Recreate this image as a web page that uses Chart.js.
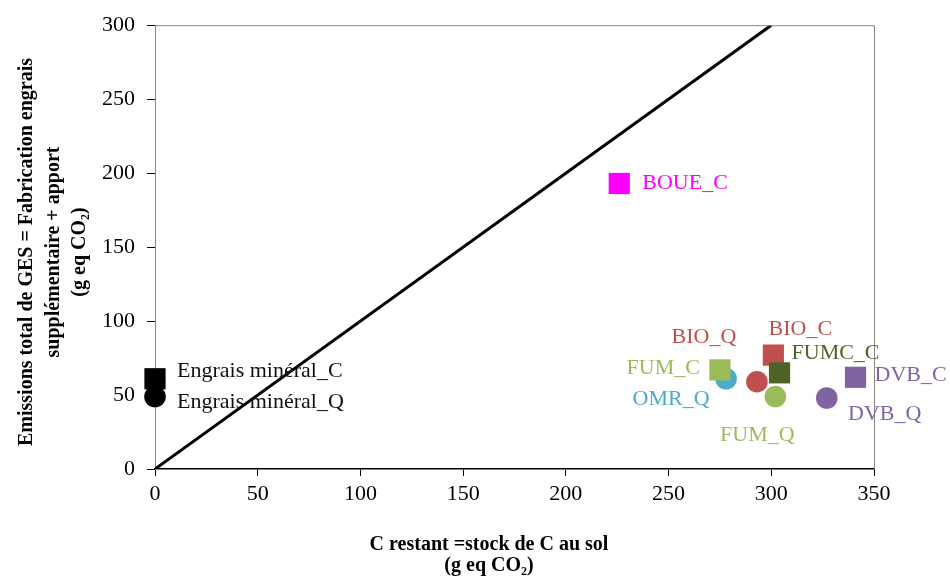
<!DOCTYPE html>
<html>
<head>
<meta charset="utf-8">
<script src="https://cdn.jsdelivr.net/npm/chart.js@4.4.1/dist/chart.umd.min.js"></script>
<style>
  html, body { margin: 0; padding: 0; background: #fff; }
  #wrap { width: 950px; height: 579px; position: relative; }
</style>
</head>
<body>
<div id="wrap"><canvas id="c" width="950" height="579"></canvas></div>
<script>
// ---- data ----
const names   = ['Engrais minéral_C', 'Engrais minéral_Q', 'BOUE_C', 'OMR_Q', 'FUM_C', 'BIO_Q', 'BIO_C', 'FUMC_C', 'FUM_Q', 'DVB_Q', 'DVB_C'];
const xValues = [0, 0, 226, 278, 275, 293, 301, 304, 302, 327, 341];
const yValues = [61, 49, 193, 61, 67, 59, 77, 65, 49, 48, 62];
const shapes  = ['rect', 'circle', 'rect', 'circle', 'rect', 'circle', 'rect', 'rect', 'circle', 'circle', 'rect'];
const colors  = ['#000000', '#000000', '#FF00FF', '#4BACC6', '#9BBB59', '#C0504D', '#C0504D', '#4F6228', '#9BBB59', '#8064A2', '#8064A2'];
const refLineX = [0, 300];
const refLineY = [0, 300];
const xTicks = [0, 50, 100, 150, 200, 250, 300, 350];
const yTicks = [0, 50, 100, 150, 200, 250, 300];

// label placement (pixel offsets from the marker)
const labelPlacement = {
  'Engrais minéral_C': { dx: 22, dy: -8, align: 'left' },
  'Engrais minéral_Q': { dx: 22, dy: 6, align: 'left' },
  'BOUE_C': { dx: 23, dy: 0, align: 'left' },
  'OMR_Q': { dx: -55, dy: 20, align: 'center' },
  'FUM_C': { dx: -20, dy: -2, align: 'right' },
  'BIO_Q': { dx: -53, dy: -45, align: 'center' },
  'BIO_C': { dx: 27, dy: -26, align: 'center' },
  'FUMC_C': { dx: 12, dy: -20, align: 'left' },
  'FUM_Q': { dx: -18, dy: 39, align: 'center' },
  'DVB_Q': { dx: 58, dy: 16, align: 'center' },
  'DVB_C': { dx: 19, dy: -2, align: 'left' }
};

const FONT = '"Liberation Serif", "Times New Roman", serif';
const n = names.length;

const datasets = names.map((nm, i) => ({
  label: nm,
  data: [{ x: xValues[i], y: yValues[i] }],
  pointStyle: shapes[i],
  pointRadius: shapes[i] === 'rect' ? 15 : 10.8,
  pointHoverRadius: shapes[i] === 'rect' ? 15 : 10.8,
  backgroundColor: colors[i],
  borderColor: colors[i],
  borderWidth: 0,
  clip: false,
  order: n - i + 1
}));
datasets.unshift({
  label: 'ref',
  type: 'scatter',
  data: refLineX.map((x, i) => ({ x: x, y: refLineY[i] })),
  showLine: true,
  borderColor: '#000',
  borderWidth: 3,
  pointRadius: 0,
  order: n + 5
});

const overlay = {
  id: 'overlay',
  afterDraw(chart) {
    const ctx = chart.ctx;
    const a = chart.chartArea;
    // frame top & right
    ctx.save();
    ctx.strokeStyle = '#868686';
    ctx.lineWidth = 1;
    ctx.beginPath();
    ctx.moveTo(a.left, a.top + 0.5);
    ctx.lineTo(a.right + 0.5, a.top + 0.5);
    ctx.lineTo(a.right + 0.5, a.bottom);
    ctx.stroke();
    ctx.restore();

    // point labels
    ctx.save();
    ctx.font = '22px ' + FONT;
    ctx.textBaseline = 'middle';
    chart.data.datasets.forEach((ds, di) => {
      const p = labelPlacement[ds.label];
      if (!p) return;
      const el = chart.getDatasetMeta(di).data[0];
      ctx.fillStyle = ds.label.startsWith('Engrais') ? '#111' : ds.backgroundColor;
      ctx.textAlign = p.align;
      ctx.fillText(ds.label, el.x + p.dx, el.y + p.dy);
    });
    ctx.restore();

    // axis titles
    ctx.save();
    ctx.fillStyle = '#000';
    ctx.font = 'bold 20px ' + FONT;
    ctx.textAlign = 'center';
    ctx.textBaseline = 'middle';
    ctx.fillText('C restant =stock de C au sol', 489, 545);
    ctx.fillText('(g eq CO\u2082)', 489, 566);
    const ylines = ['Emissions total de GES = Fabrication engrais', 'supplémentaire + apport', '(g eq CO\u2082)'];
    const xs = [27, 54, 80];
    ylines.forEach((t, i) => {
      ctx.save();
      ctx.translate(xs[i], 252);
      ctx.rotate(-Math.PI / 2);
      ctx.fillText(t, 0, 0);
      ctx.restore();
    });
    ctx.restore();
  }
};

new Chart(document.getElementById('c'), {
  type: 'scatter',
  data: { datasets: datasets },
  options: {
    responsive: false,
    animation: false,
    devicePixelRatio: 1,
    layout: { padding: { top: 24, right: 76, left: 0, bottom: 0 } },
    plugins: { legend: { display: false }, tooltip: { enabled: false } },
    scales: {
      x: {
        type: 'linear', min: 0, max: 350,
        afterBuildTicks: s => { s.ticks = xTicks.map(v => ({ value: v })); },
        afterFit: s => { s.height = 110; },
        grid: { drawOnChartArea: false, drawTicks: true, tickLength: 7, color: '#000', tickColor: '#000', tickWidth: 1 },
        border: { display: true, color: '#000', width: 1.5 },
        ticks: { color: '#000', font: { family: FONT, size: 22 }, padding: 5, maxRotation: 0 }
      },
      y: {
        type: 'linear', min: 0, max: 300,
        afterBuildTicks: s => { s.ticks = yTicks.map(v => ({ value: v })); },
        afterFit: s => { s.width = 155; },
        grid: { drawOnChartArea: false, drawTicks: true, tickLength: 8, color: '#868686', tickColor: '#000', tickWidth: 1 },
        border: { display: true, color: '#868686', width: 1 },
        ticks: { color: '#000', font: { family: FONT, size: 22 }, padding: 12 }
      }
    }
  },
  plugins: [overlay]
});
</script>
</body>
</html>
